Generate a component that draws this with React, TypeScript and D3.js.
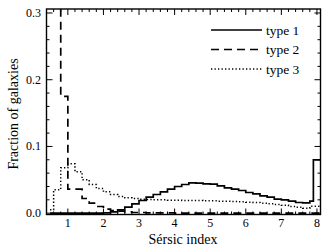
import React from "react";
import * as d3 from "d3";

const binEdges: number[] = [...d3.range(38).map((i) => 0.4 + 0.2 * i), 7.9, 8.1];

const type1: (number | null)[] = [
  0, 0, 0, 0, 0, 0, 0, 0, 0.0005, 0.002, 0.005, 0.009, 0.014, 0.019, 0.024, 0.028,
  0.032, 0.036, 0.04, 0.043, 0.0455, 0.045, 0.044, 0.0435, 0.041, 0.038, 0.036, 0.034,
  0.031, 0.029, 0.026, 0.024, 0.021, 0.02, 0.018, 0.016, 0.0155, 0.018, 0.08,
];
const type2: (number | null)[] = [
  null, 0.34, 0.175, 0.036, 0.036, 0.022, 0.015, 0.01, 0.006, 0.004, 0.003, 0.002, 0.001,
  0.001, 0.0005, 0.0005, 0.0005, 0.0005, 0, 0, 0, 0, 0, 0, 0, 0, 0, 0, 0, 0, 0, 0, 0,
  0, 0, 0, 0, 0, 0,
];
const type3: (number | null)[] = [
  0.005, 0.035, 0.068, 0.074, 0.062, 0.05, 0.043, 0.037, 0.032, 0.028, 0.025, 0.023,
  0.022, 0.021, 0.0205, 0.02, 0.02, 0.0195, 0.0195, 0.019, 0.019, 0.019, 0.0185,
  0.0185, 0.018, 0.018, 0.0175, 0.017, 0.0165, 0.016, 0.015, 0.014, 0.013, 0.012,
  0.01, 0.009, 0.0075, 0.0105, 0.0105,
];

const seriesNames = ["type 1", "type 2", "type 3"];
const xMajorTicks = [1, 2, 3, 4, 5, 6, 7, 8];
const yMajorTicks = [0, 0.1, 0.2, 0.3];
const xLabel = "Sérsic index";
const yLabel = "Fraction of galaxies";

const W = 330;
const H = 252;
const left = 46.5;
const right = 320.5;
const top = 9;
const bottom = 214.5;

export default function App() {
  const x = d3.scaleLinear().domain([0.4, 8.1]).range([left, right]);
  const y = d3.scaleLinear().domain([-0.002, 0.306]).range([bottom, top]);

  const stepPath = (vals: (number | null)[]) => {
    const p = d3.path();
    let started = false;
    for (let i = 0; i < vals.length; i++) {
      const v = vals[i];
      if (v === null) continue;
      if (!started) {
        const c0 = (binEdges[i] + binEdges[i + 1]) / 2;
        p.moveTo(x(c0), y(v));
        started = true;
      } else {
        p.lineTo(x(binEdges[i]), y(v));
      }
      p.lineTo(x(binEdges[i + 1]), y(v));
    }
    return p.toString();
  };

  const xMinor = d3.range(0, 39).map((i) => 0.4 + 0.2 * i).filter((v) => Math.abs(v - Math.round(v)) > 0.01);
  const yMinor = d3.range(0, 16).map((i) => i * 0.02).filter((v) => Math.abs(v * 10 - Math.round(v * 10)) > 0.01);

  const styles = [
    { dash: undefined, w: 1.7 },
    { dash: "8,5", w: 1.7 },
    { dash: "1.3,2.2", w: 1.5 },
  ];
  const data = [type1, type2, type3];
  const font = "Liberation Serif, Times New Roman, Times, DejaVu Serif, serif";
  const majLen = 6;
  const minLen = 3;

  return (
    <svg width={W} height={H} style={{ position: "absolute", left: 0, top: 0, background: "#fff" }}>
      <defs>
        <clipPath id="plotclip">
          <rect x={left} y={top} width={right - left} height={bottom - top} />
        </clipPath>
      </defs>
      <g clipPath="url(#plotclip)" fill="none" stroke="#000">
        {data.map((vals, i) => (
          <path key={i} d={stepPath(vals)} strokeWidth={styles[i].w} strokeDasharray={styles[i].dash} />
        ))}
      </g>
      <g stroke="#000" strokeWidth={1}>
        {xMajorTicks.map((v) => (
          <g key={"xm" + v}>
            <line x1={x(v)} x2={x(v)} y1={bottom} y2={bottom - majLen} />
            <line x1={x(v)} x2={x(v)} y1={top} y2={top + majLen} />
          </g>
        ))}
        {xMinor.map((v, i) => (
          <g key={"xn" + i}>
            <line x1={x(v)} x2={x(v)} y1={bottom} y2={bottom - minLen} />
            <line x1={x(v)} x2={x(v)} y1={top} y2={top + minLen} />
          </g>
        ))}
        {yMajorTicks.map((v) => (
          <g key={"ym" + v}>
            <line x1={left} x2={left + majLen} y1={y(v)} y2={y(v)} />
            <line x1={right} x2={right - majLen} y1={y(v)} y2={y(v)} />
          </g>
        ))}
        {yMinor.map((v, i) => (
          <g key={"yn" + i}>
            <line x1={left} x2={left + minLen} y1={y(v)} y2={y(v)} />
            <line x1={right} x2={right - minLen} y1={y(v)} y2={y(v)} />
          </g>
        ))}
      </g>
      <rect x={left} y={top} width={right - left} height={bottom - top} fill="none" stroke="#000" strokeWidth={1.4} />
      <g fontFamily={font} fontSize={12} fill="#000">
        {xMajorTicks.map((v) => (
          <text key={"xl" + v} x={x(v)} y={227} textAnchor="middle">
            {v}
          </text>
        ))}
        {yMajorTicks.map((v) => (
          <text key={"yl" + v} x={41} y={y(v) + 4} textAnchor="end">
            {v.toFixed(1)}
          </text>
        ))}
      </g>
      <text x={183} y={244} textAnchor="middle" fontFamily={font} fontSize={14}>
        {xLabel}
      </text>
      <text
        transform={`translate(18, 114) rotate(-90)`}
        textAnchor="middle"
        fontFamily={font}
        fontSize={14}
      >
        {yLabel}
      </text>
      <g fontFamily={font} fontSize={13.5}>
        {seriesNames.map((name, i) => (
          <g key={name} transform={`translate(0, ${30 + i * 19.5})`}>
            <line x1={211} x2={262} y1={0} y2={0} stroke="#000" strokeWidth={styles[i].w} strokeDasharray={styles[i].dash} />
            <text x={266} y={4.5}>
              {name}
            </text>
          </g>
        ))}
      </g>
    </svg>
  );
}
